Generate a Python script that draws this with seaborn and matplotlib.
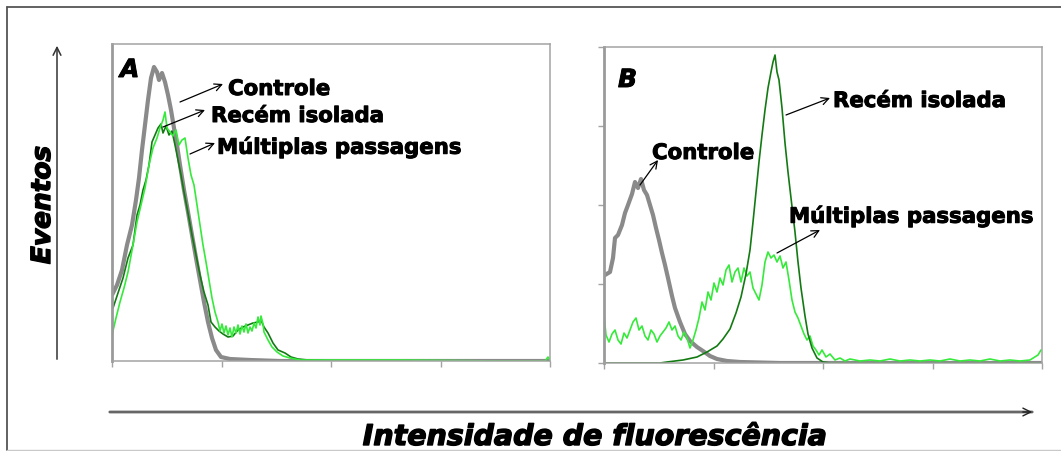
import matplotlib
matplotlib.use("Agg")
import matplotlib.pyplot as plt
import matplotlib.patheffects as pe
import seaborn as sns
import pandas as pd
from matplotlib.lines import Line2D

# ---------------- data (x: fluorescence channel, y: events) ----------------
# Panel A
a_ctrl_x = [0, 5, 10, 15, 20, 24, 27, 30, 33, 36, 39, 42, 45, 47, 50, 53, 56, 59, 62, 65, 68, 72, 76, 80,
            84, 88, 92, 96, 100, 104, 109, 118, 138, 168, 438]
a_ctrl_y = [66, 76, 91, 116, 136, 161, 183, 211, 236, 261, 283, 294, 289, 281, 288, 279, 266, 251, 233, 216,
            196, 171, 149, 126, 103, 81, 59, 39, 23, 11, 4, 2, 1, 0, 0]

a_rec_x = [1, 6, 11, 16, 21, 25, 28, 31, 34, 37, 40, 43, 46, 49, 51, 54, 57, 60, 63, 66, 69, 72, 76, 80,
           84, 88, 92, 96, 99, 103, 107, 111, 116, 121, 126, 131, 136, 141, 146, 149, 152, 156, 161, 166,
           173, 179, 186, 196, 218, 438]
a_rec_y = [53, 68, 83, 103, 116, 146, 156, 171, 181, 196, 219, 226, 233, 237, 228, 235, 226, 230, 216, 201,
           186, 169, 148, 126, 106, 86, 69, 56, 39, 34, 30, 27, 24, 25, 31, 34, 36, 38, 39, 41, 34, 28,
           18, 11, 8, 4, 2, 1, 0, 0]

a_mult_x = [0, 4, 8, 12, 16, 21, 25, 29, 33, 37, 41, 45, 48, 51, 53, 55, 58, 61, 64, 67, 70, 73, 76, 79,
            82, 85, 88, 91, 94, 97, 100, 103, 106, 108, 110, 112, 114, 116, 118, 120, 122, 124, 126, 128,
            130, 132, 134, 136, 138, 140, 142, 144, 146, 148, 149, 151,
            152, 156, 160, 165, 171, 178, 188, 238, 288, 388, 433, 436, 438]
a_mult_y = [26, 43, 59, 73, 89, 116, 139, 156, 173, 196, 213, 223, 233, 241, 249, 233, 229, 225, 231, 216,
            221, 223, 203, 186, 176, 156, 136, 116, 99, 81, 63, 49, 39, 30, 37, 28, 35, 26, 33, 24, 34,
            28, 36, 27, 35, 29, 37, 28, 34, 30, 38, 33, 44, 36, 45, 37,
            29, 21, 14, 9, 5, 3, 1, 1, 1, 0, 0, 4, 1]

# Panel B
b_ctrl_x = [1, 6, 9, 11, 14, 18, 21, 24, 28, 31, 34, 37, 40, 43, 46, 49, 52, 55, 58, 61, 64, 68, 71, 76,
            81, 86, 93, 99, 106, 113, 123, 136, 176, 438]
b_ctrl_y = [88, 91, 105, 125, 128, 138, 150, 158, 169, 181, 175, 184, 173, 168, 158, 148, 135, 123, 110, 98,
            85, 67, 55, 41, 29, 22, 16, 12, 7, 4, 2, 1, 0, 0]

b_rec_x = [0, 56, 63, 79, 93, 103, 113, 119, 126, 132, 137, 142, 146, 149, 152, 155, 158, 161, 164, 167,
           169, 171, 173, 175, 178, 181, 184, 187, 191, 194, 197, 201, 204, 208, 213, 219, 226, 438]
b_rec_y = [0, 0, 1, 3, 6, 11, 17, 24, 34, 50, 66, 89, 113, 141, 171, 201, 228, 253, 275, 291,
           301, 308, 291, 283, 255, 220, 191, 165, 131, 101, 75, 47, 29, 15, 5, 1, 0, 0]

b_mult_x = [0, 2, 5, 8, 11, 14, 17, 20, 23, 26, 29, 32, 35, 38, 41, 44, 47, 50, 53, 56, 59, 62, 65, 68,
            71, 74, 77, 80, 83, 86, 89, 92, 95, 98, 101, 104, 107, 110, 113, 116, 119, 122, 125, 128,
            131, 134, 137, 140, 143, 146, 149, 152, 155, 158, 161, 164, 167, 170, 173, 176, 179, 182,
            185, 188, 191, 194, 197, 200, 203, 206, 209, 212, 215, 218, 222, 226, 231, 236, 241, 246,
            256, 266, 276, 286, 296, 306, 316, 326, 336, 346, 356, 366, 376, 386, 396, 406, 416, 426,
            434, 437]
b_mult_y = [48, 28, 21, 29, 33, 23, 19, 30, 25, 33, 41, 45, 33, 37, 27, 23, 33, 29, 21, 27, 31, 35, 41, 33,
            37, 27, 23, 31, 25, 15, 23, 33, 45, 61, 53, 71, 63, 80, 71, 85, 78, 93, 98, 81,
            91, 95, 81, 95, 87, 91, 75, 69, 63, 78, 101, 111, 105, 108, 101, 107, 95, 101,
            83, 63, 51, 45, 37, 29, 23, 27, 17, 13, 8, 13, 6, 9, 3, 5, 2, 4,
            2, 3, 2, 4, 2, 3, 2, 3, 2, 4, 2, 3, 2, 4, 2, 3, 2, 3,
            8, 13]

labels = ["Controle", "Recém isolada", "Múltiplas passagens"]
panel_letters = ["A", "B"]
x_title = "Intensidade de fluorescência"
y_title = "Eventos"

# ---------------- style ----------------
sns.set_style("white")
plt.rcParams["font.family"] = ["DejaVu Sans"]
plt.rcParams["text.color"] = "black"

C_GRAY = "#8a8a8a"
C_DARK = "#137a13"
C_LIME = "#35ea3a"
SPINE = "#a3a3a3"

W, H = 1061, 451
fig = plt.figure(figsize=(W / 100, H / 100), dpi=100)
fig.patch.set_facecolor("white")


def px_box(left, top, right, bottom):
    return [left / W, 1 - bottom / H, (right - left) / W, (bottom - top) / H]


axA = fig.add_axes(px_box(112, 44, 550, 361))
axB = fig.add_axes(px_box(604, 47, 1042, 363))


def draw(ax, series, order):
    for i in order:
        x, y, c, lw = series[i]
        df = pd.DataFrame({"x": x, "y": y})
        sns.lineplot(data=df, x="x", y="y", ax=ax, color=c, linewidth=lw,
                     estimator=None, sort=False, legend=False)


seriesA = [(a_ctrl_x, a_ctrl_y, C_GRAY, 3.0), (a_rec_x, a_rec_y, C_DARK, 1.2),
           (a_mult_x, a_mult_y, C_LIME, 1.2)]
seriesB = [(b_ctrl_x, b_ctrl_y, C_GRAY, 3.0), (b_rec_x, b_rec_y, C_DARK, 1.2),
           (b_mult_x, b_mult_y, C_LIME, 1.2)]
draw(axA, seriesA, [0, 1, 2])
draw(axB, seriesB, [0, 2, 1])

for ax, ymax in ((axA, 317), (axB, 316)):
    ax.set_xlim(0, 438)
    ax.set_ylim(0, ymax)
    ax.set_xlabel("")
    ax.set_ylabel("")
    ax.set_facecolor("white")
    for s in ax.spines.values():
        s.set_visible(True)
        s.set_color(SPINE)
        s.set_linewidth(1.1)
    ax.spines["left"].set_linewidth(2.0)
    ax.spines["left"].set_color("#9a9a9a")
    ax.set_xticks([0, 109.5, 219, 328.5, 438])
    ax.set_xticklabels([])
    ax.tick_params(axis="x", direction="out", length=4, width=1, color=SPINE, bottom=True)

axA.set_yticks([])
axB.set_yticks([0, 79, 158, 237, 316])
axB.set_yticklabels([])
axB.tick_params(axis="y", direction="out", length=4, width=1, color=SPINE, left=True)

heavy = [pe.withStroke(linewidth=0.7, foreground="black")]
lab_font = dict(fontsize=15.3, fontweight="bold", color="black", va="center", ha="left",
                path_effects=heavy)
arrow_kw = dict(arrowstyle="->", color="black", lw=0.9, shrinkA=0, shrinkB=0,
                mutation_scale=13)


def label(ax, text, tx, ty, tail, head):
    ax.text(tx, ty, text, **lab_font)
    ax.annotate("", xy=head, xytext=tail, arrowprops=arrow_kw)


label(axA, labels[0], 116, 272, (68, 259), (111, 277))
label(axA, labels[1], 99, 245, (51, 234), (93, 251))
label(axA, labels[2], 105, 214, (78, 207), (103, 218))
label(axB, labels[1], 229, 262, (182, 248), (226, 265))
label(axB, labels[0], 48, 210, (36, 178), (54, 203))
label(axB, labels[2], 185, 147, (173, 110), (216, 133))

axA.text(8, 291, panel_letters[0], fontsize=18, fontweight="bold", fontstyle="italic",
         va="center", ha="left", color="black", path_effects=heavy)
axB.text(14, 283, panel_letters[1], fontsize=18, fontweight="bold", fontstyle="italic",
         va="center", ha="left", color="black", path_effects=heavy)

# ---------------- figure-level decorations ----------------
def fx(p):
    return p / W


def fy(p):
    return 1 - p / H


# outer frame
fig.add_artist(Line2D([fx(7), fx(7)], [fy(7), fy(450)], color="#555555", lw=1.3))
fig.add_artist(Line2D([fx(7), 1], [fy(7), fy(7)], color="#555555", lw=1.3))
fig.add_artist(Line2D([fx(7), 1], [fy(450), fy(450)], color="#c8c8c8", lw=1.0))

# axis arrows
fig.add_artist(matplotlib.patches.FancyArrowPatch((fx(57), fy(362)), (fx(57), fy(43)),
               transform=fig.transFigure, arrowstyle="->", color="#333333", lw=1.1,
               mutation_scale=14))
fig.add_artist(matplotlib.patches.FancyArrowPatch((fx(107), fy(412)), (fx(1035), fy(412)),
               transform=fig.transFigure, arrowstyle="-", color="#666666", lw=2.0))
fig.add_artist(matplotlib.patches.FancyArrowPatch((fx(1020), fy(412)), (fx(1035), fy(412)),
               transform=fig.transFigure, arrowstyle="->", color="#222222", lw=1.0,
               mutation_scale=14))

fig.text(fx(43), fy(205), y_title, rotation=90, fontsize=19, fontweight="bold",
         fontstyle="italic", ha="center", va="center", color="black",
         path_effects=[pe.withStroke(linewidth=1.0, foreground="black")])
fig.text(fx(595), fy(437), x_title, fontsize=20.5, fontweight="bold",
         fontstyle="italic", ha="center", va="center", color="black",
         path_effects=[pe.withStroke(linewidth=1.0, foreground="black")])

fig.savefig("out.png", dpi=100, facecolor="white")
